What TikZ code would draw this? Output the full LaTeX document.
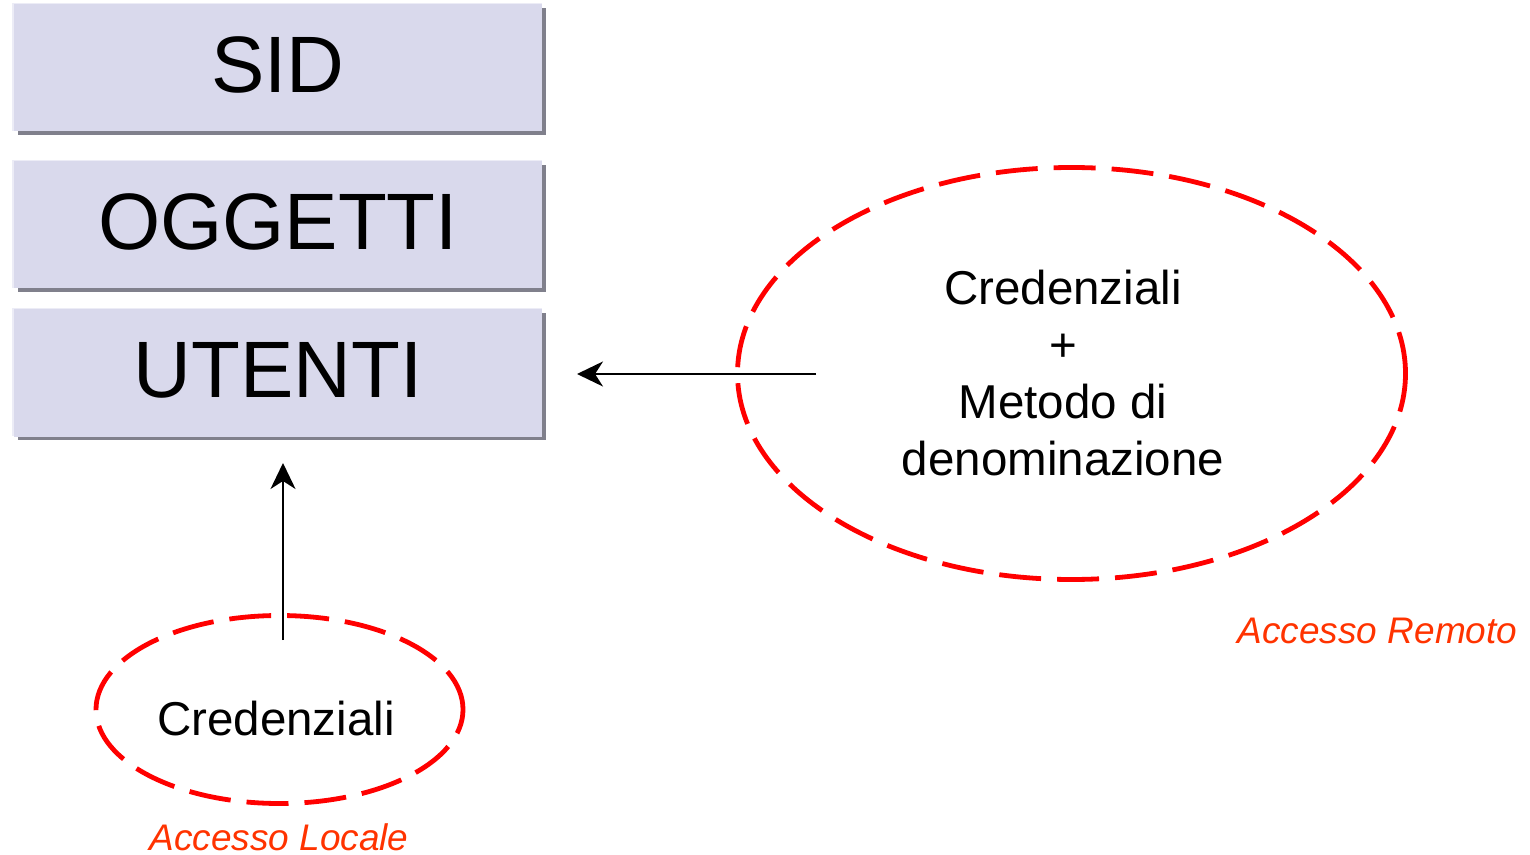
\documentclass[tikz,border=0pt]{standalone}
\usepackage{fontspec}
\setmainfont{Liberation Sans}
\usetikzlibrary{shapes.geometric,arrows.meta}
\definecolor{boxfill}{HTML}{D9D9EC}
\definecolor{boxshadow}{HTML}{80808C}
\definecolor{boxlight}{HTML}{ECECF6}
\definecolor{dashred}{HTML}{FF0000}
\definecolor{labelred}{HTML}{FF3300}
\tikzset{
  layerbox/.style={fill=boxfill, minimum width=264pt, minimum height=63.5pt, inner sep=0pt,
    font=\fontsize{40}{48}\selectfont, text height=25pt, text depth=0pt},
  dashell/.style={ellipse, draw=dashred, line width=2.4pt, dash pattern=on 21pt off 8pt, inner sep=0pt},
  bodytext/.style={font=\fontsize{23.75}{28.65}\selectfont, align=center, inner sep=0pt},
  acclabel/.style={font=\fontsize{18.5}{22}\selectfont\itshape, text=labelred, inner sep=0pt, anchor=base},
  conn/.style={line width=1pt, -{Stealth[length=13pt, width=12.5pt, inset=4pt]}}
}
\begin{document}
\begin{tikzpicture}[x=0.5pt,y=-0.5pt]
\useasboundingbox (0,0) rectangle (1530,855);
% boxes with shadow
\fill[boxshadow] (18,8) rectangle (546,135);
\fill[boxlight] (12,3) rectangle (542,131);
\node[layerbox] (sid) at (278,68) {SID};
\fill[boxshadow] (18,165) rectangle (546,292);
\fill[boxlight] (12,160) rectangle (542,288);
\node[layerbox] (oggetti) at (278,225) {OGGETTI};
\fill[boxshadow] (18,313) rectangle (546,440);
\fill[boxlight] (12,308) rectangle (542,436);
\node[layerbox] (utenti) at (278,373) {UTENTI};
% ellipses
\node[dashell, minimum width=334pt, minimum height=206pt] (remote) at (1071.5,373.5) {};
\node[dashell, minimum width=183.5pt, minimum height=94pt] (local) at (279.5,709.5) {};
% texts
\node[bodytext] (remtext) at (1063,373) {Credenziali\\+\\Metodo di\\denominazione};
\node[bodytext, anchor=base] (loctext) at (276,735) {Credenziali};
\node[acclabel] (accrem) at (1377.5,643) {Accesso Remoto};
\node[acclabel] (accloc) at (279,850) {Accesso Locale};
% connectors
\coordinate (remstart) at (816,374);
\coordinate (remend) at (577,374);
\coordinate (locstart) at (283,640);
\coordinate (locend) at (283,463);
\draw[conn] (remstart) -- (remend);
\draw[conn] (locstart) -- (locend);
\end{tikzpicture}
\end{document}
